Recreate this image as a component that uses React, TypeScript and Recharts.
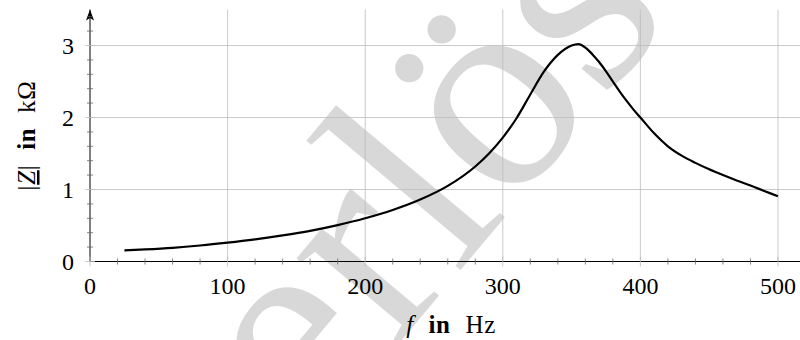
import { CartesianGrid, Line, LineChart, ReferenceLine, XAxis, YAxis } from "recharts";

// frequency in Hz and |Z| in kOhm
const freq = [
  25, 40, 60, 80, 100, 120, 140, 160, 180, 200, 220, 240, 260, 280, 290, 300,
  310, 320, 330, 340, 350, 355, 360, 365, 370, 375, 380, 385, 390, 395, 400,
  410, 420, 430, 440, 450, 460, 470, 480, 490, 500,
];
const impedance = [
  0.155, 0.168, 0.19, 0.222, 0.262, 0.308, 0.362, 0.425, 0.505, 0.6, 0.715,
  0.86, 1.05, 1.32, 1.5, 1.72, 1.99, 2.32, 2.64, 2.87, 3.0, 3.02, 2.97, 2.88,
  2.77, 2.64, 2.5, 2.36, 2.23, 2.11, 2.0, 1.78, 1.6, 1.47, 1.37, 1.28, 1.2,
  1.125, 1.055, 0.98, 0.905,
];

const xTicks = [
  0, 20, 40, 60, 80, 100, 120, 140, 160, 180, 200, 220, 240, 260, 280, 300,
  320, 340, 360, 380, 400, 420, 440, 460, 480, 500,
];
const xGrid = [100, 200, 300, 400, 500];
const yTicks = [
  0, 0.2, 0.4, 0.6, 0.8, 1, 1.2, 1.4, 1.6, 1.8, 2, 2.2, 2.4, 2.6, 2.8, 3, 3.2,
  3.4,
];
const yGrid = [1, 2, 3];

const data = freq.map((f, i) => ({ f, z: impedance[i] }));

const FONT = "'Liberation Serif', 'Times New Roman', serif";
const GRID = "#bdbdbd";
const textStyle = { fontFamily: FONT };

const isWhole = (v: number) => Math.abs(v - Math.round(v)) < 1e-6;

function XTick({ x, y, payload }: any) {
  const v = payload.value;
  const major = v % 100 === 0;
  const h = major ? 5 : 3;
  return (
    <g>
      <line
        x1={x}
        x2={x}
        y1={y - h}
        y2={y + h}
        stroke={major ? GRID : "#666"}
        strokeWidth={0.8}
      />
      {major && (
        <text x={x} y={y + 32} textAnchor="middle" fontSize={24} style={textStyle} fill="#000">
          {v}
        </text>
      )}
    </g>
  );
}

function YTick({ x, y, payload }: any) {
  const v = payload.value;
  const major = isWhole(v);
  const h = major ? 5 : 3;
  return (
    <g>
      <line
        x1={x - h}
        x2={x + h}
        y1={y}
        y2={y}
        stroke={major ? GRID : "#666"}
        strokeWidth={0.8}
      />
      {major && (
        <text x={x - 16} y={y} dy="0.34em" textAnchor="end" fontSize={24} style={textStyle} fill="#000">
          {Math.round(v)}
        </text>
      )}
    </g>
  );
}

function XTitle({ viewBox }: any) {
  const cx = viewBox.x + viewBox.width / 2 + 6;
  const cy = viewBox.y + 71;
  return (
    <text
      x={cx}
      y={cy}
      textAnchor="middle"
      fontSize={25}
      fill="#000"
      style={{ fontFamily: FONT, wordSpacing: 8, letterSpacing: 0.6 }}
    >
      <tspan fontStyle="italic">f</tspan> <tspan fontWeight="bold">in</tspan> Hz
    </text>
  );
}

function YTitle({ viewBox }: any) {
  const cx = viewBox.x + 5;
  const cy = viewBox.y + viewBox.height / 2;
  return (
    <text
      x={cx}
      y={cy}
      transform={`rotate(-90, ${cx}, ${cy})`}
      textAnchor="middle"
      fontSize={25}
      fill="#000"
      style={{ fontFamily: FONT, wordSpacing: 8, letterSpacing: 0.6 }}
    >
      |<tspan fontStyle="italic" textDecoration="underline">Z</tspan>|{" "}
      <tspan fontWeight="bold">in</tspan> kΩ
    </text>
  );
}

export default function App() {
  return (
    <div style={{ position: "absolute", left: 0, top: 0, width: 800, height: 340, background: "#fff" }}>
      <svg width={800} height={340} style={{ position: "absolute", left: 0, top: 0 }}>
        <g transform="translate(312,447) rotate(-50)" style={textStyle} fontSize={290} fill="#d8d8d8">
          <text x={0} y={0} textAnchor="end">Must</text>
          <text x={0} y={0}>erlösung</text>
        </g>
      </svg>
      <div style={{ position: "absolute", left: 0, top: 0 }}>
        <LineChart width={800} height={340} data={data} margin={{ top: 9.5, right: 0, bottom: 48.5, left: 30 }}>
          <defs>
            <marker
              id="yarrow"
              markerUnits="userSpaceOnUse"
              markerWidth={11}
              markerHeight={8}
              refX={11}
              refY={4}
              orient="auto-start-reverse"
            >
              <path d="M0,0 L11,4 L0,8 L2.5,4 z" fill="#000" />
            </marker>
          </defs>
          <CartesianGrid
            yAxisId="grid"
            vertical={false}
            stroke={GRID}
            strokeWidth={0.8}
            syncWithTicks
          />
          <YAxis yAxisId="grid" type="number" domain={[0, 3.5]} ticks={yGrid} interval={0} hide allowDataOverflow />
          {xGrid.map((v) => (
            <ReferenceLine key={v} x={v} stroke={GRID} strokeWidth={0.8} />
          ))}
          <XAxis
            dataKey="f"
            type="number"
            domain={[0, 516]}
            ticks={xTicks}
            interval={0}
            tickSize={0}
            tickMargin={0}
            tickLine={false}
            tick={<XTick />}
            axisLine={{ stroke: "#000", strokeWidth: 1 }}
            height={30}
            allowDataOverflow
            label={{ content: (p: any) => <XTitle viewBox={p.viewBox} /> }}
          />
          <YAxis
            type="number"
            domain={[0, 3.5]}
            ticks={yTicks}
            interval={0}
            tickSize={0}
            tickMargin={0}
            tickLine={false}
            tick={<YTick />}
            axisLine={{ stroke: "#000", strokeWidth: 1, markerStart: "url(#yarrow)" }}
            width={60}
            allowDataOverflow
            label={{ content: (p: any) => <YTitle viewBox={p.viewBox} /> }}
          />
          <Line
            dataKey="z"
            type="monotone"
            stroke="#000"
            strokeWidth={2.2}
            dot={false}
            isAnimationActive={false}
          />
        </LineChart>
      </div>
    </div>
  );
}
